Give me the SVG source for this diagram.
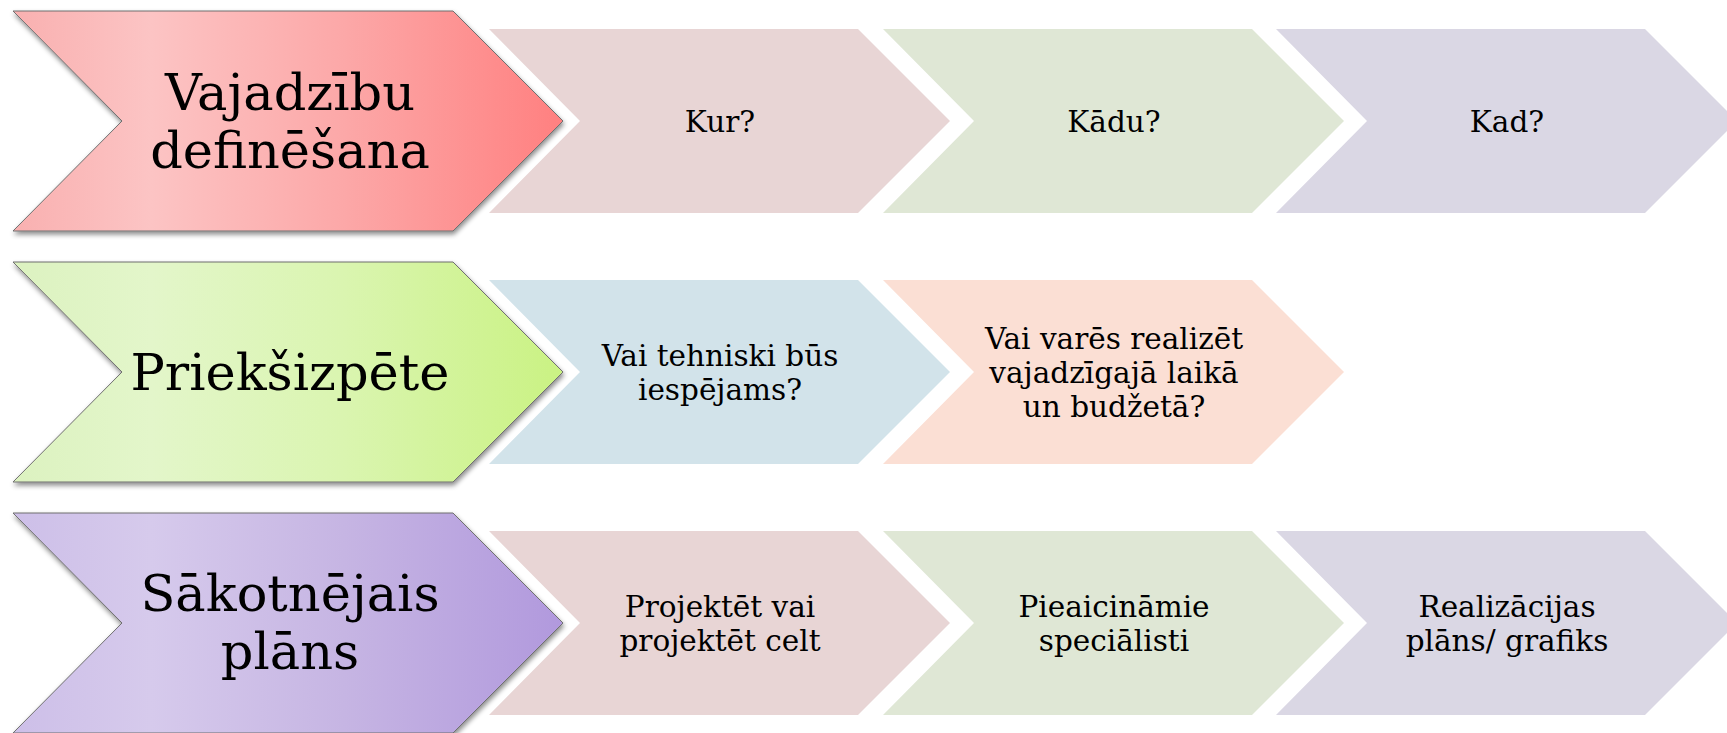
<svg xmlns="http://www.w3.org/2000/svg" width="1727" height="733" viewBox="0 0 1727 733">
<defs>
<linearGradient id="gRed" x1="0" y1="0" x2="1" y2="0">
<stop offset="0" stop-color="#F9B0B0"/>
<stop offset="0.25" stop-color="#FCC4C4"/>
<stop offset="0.6" stop-color="#FCA8A8"/>
<stop offset="1" stop-color="#FF8080"/>
</linearGradient>
<linearGradient id="gGreen" x1="0" y1="0" x2="1" y2="0">
<stop offset="0" stop-color="#DCF2C0"/>
<stop offset="0.25" stop-color="#E3F6CA"/>
<stop offset="0.6" stop-color="#DAF5B0"/>
<stop offset="1" stop-color="#CAF283"/>
</linearGradient>
<linearGradient id="gPurple" x1="0" y1="0" x2="1" y2="0">
<stop offset="0" stop-color="#CDBFE8"/>
<stop offset="0.25" stop-color="#D6CAEC"/>
<stop offset="0.6" stop-color="#C6B5E3"/>
<stop offset="1" stop-color="#B199DD"/>
</linearGradient>
<filter id="shadow" x="-5%" y="-5%" width="112%" height="115%">
<feDropShadow dx="1" dy="3" stdDeviation="2.5" flood-color="#000" flood-opacity="0.45"/>
</filter>
<style>
.big{stroke:#6F6F6F;stroke-width:1;filter:url(#shadow)}
.bt{font-family:"DejaVu Serif","Liberation Serif",serif;font-size:51px;fill:#000;text-anchor:middle}
.st{font-family:"DejaVu Serif","Liberation Serif",serif;font-size:29.5px;fill:#000;text-anchor:middle}
.pink{fill:#E8D5D5}
.green{fill:#DFE7D5}
.lav{fill:#DAD7E4}
.blue{fill:#D2E3EA}
.peach{fill:#FBDFD4}
</style>
</defs>
<rect width="1727" height="733" fill="#FFFFFF"/>
<g id="connectors"></g>

<!-- Row 1 -->
<g id="n-vajadzibu">
<polygon class="big" fill="url(#gRed)" points="13,11 453,11 563,121 453,231 13,231 122,121"/>
<text class="bt" x="290" y="110">Vajadzību</text>
<text class="bt" x="290" y="168">definēšana</text>
</g>
<g id="n-kur">
<polygon class="pink" points="489,29 858,29 950,121 858,213 489,213 580,121"/>
<text class="st" x="720" y="132">Kur?</text>
</g>
<g id="n-kadu">
<polygon class="green" points="883,29 1252,29 1344,121 1252,213 883,213 974,121"/>
<text class="st" x="1114" y="132">Kādu?</text>
</g>
<g id="n-kad">
<polygon class="lav" points="1276,29 1645,29 1737,121 1645,213 1276,213 1367,121"/>
<text class="st" x="1507" y="132">Kad?</text>
</g>

<!-- Row 2 -->
<g id="n-prieksizpete">
<polygon class="big" fill="url(#gGreen)" points="13,262 453,262 563,372 453,482 13,482 122,372"/>
<text class="bt" x="290" y="390">Priekšizpēte</text>
</g>
<g id="n-tehniski">
<polygon class="blue" points="489,280 858,280 950,372 858,464 489,464 580,372"/>
<text class="st" x="720" y="366">Vai tehniski būs</text>
<text class="st" x="720" y="400">iespējams?</text>
</g>
<g id="n-budzets">
<polygon class="peach" points="883,280 1252,280 1344,372 1252,464 883,464 974,372"/>
<text class="st" x="1114" y="349">Vai varēs realizēt</text>
<text class="st" x="1114" y="383">vajadzīgajā laikā</text>
<text class="st" x="1114" y="417">un budžetā?</text>
</g>

<!-- Row 3 -->
<g id="n-sakotnejais">
<polygon class="big" fill="url(#gPurple)" points="13,513 453,513 563,623 453,733 13,733 122,623"/>
<text class="bt" x="290" y="611">Sākotnējais</text>
<text class="bt" x="290" y="669">plāns</text>
</g>
<g id="n-projektet">
<polygon class="pink" points="489,531 858,531 950,623 858,715 489,715 580,623"/>
<text class="st" x="720" y="617">Projektēt vai</text>
<text class="st" x="720" y="651">projektēt celt</text>
</g>
<g id="n-specialisti">
<polygon class="green" points="883,531 1252,531 1344,623 1252,715 883,715 974,623"/>
<text class="st" x="1114" y="617">Pieaicināmie</text>
<text class="st" x="1114" y="651">speciālisti</text>
</g>
<g id="n-grafiks">
<polygon class="lav" points="1276,531 1645,531 1737,623 1645,715 1276,715 1367,623"/>
<text class="st" x="1507" y="617">Realizācijas</text>
<text class="st" x="1507" y="651">plāns/ grafiks</text>
</g>
</svg>
